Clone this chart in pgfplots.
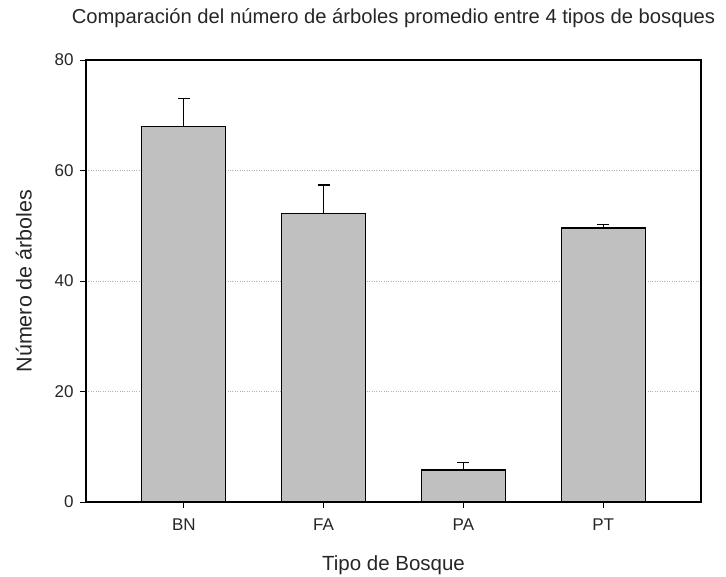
\documentclass[border=0pt]{standalone}
\usepackage{fontspec}
\setmainfont{Liberation Sans}
\usepackage{pgfplots}
\pgfplotsset{compat=1.18}
\definecolor{barfill}{RGB}{192,192,192}
\begin{document}
\begin{tikzpicture}[x=1pt,y=1pt]
\path[use as bounding box] (0,0) rectangle (726,576);
\begin{axis}[
  at={(86pt,74pt)}, anchor=south west,
  scale only axis, width=615pt, height=442pt,
  xmin=-0.7, xmax=3.7, ymin=0, ymax=80,
  xtick={0,1,2,3}, xticklabels={BN,FA,PA,PT},
  ytick={0,20,40,60,80},
  xtick pos=bottom, ytick pos=left,
  tick align=outside, major tick length=6pt,
  tick style={black, line width=1pt},
  axis line style={black, line width=1.1pt},
  ymajorgrids, grid style={gray!60, dotted, line width=0.8pt},
  /pgf/number format/assume math mode=true,
  ticklabel style={font=\fontsize{17}{19}\selectfont, text=black!85},
  yticklabel style={xshift=-3pt},
  xticklabel style={yshift=-7pt},
  xlabel={Tipo de Bosque}, ylabel={Número de árboles},
  xlabel style={at={(axis description cs:0.5,-0.1425)}, anchor=center, font=\fontsize{20.5}{23}\selectfont, text=black!85},
  ylabel style={at={(axis description cs:-0.101,0.5)}, anchor=center, font=\fontsize{21.5}{24}\selectfont, text=black!85},
  every axis title shift=0pt,
  title={Comparación del número de árboles promedio entre 4 tipos de bosques},
  title style={at={(axis description cs:0.5,1.095)}, anchor=center, font=\fontsize{20.2}{23}\selectfont, text=black!85},
]
\addplot[ybar, bar width=84pt, fill=barfill, draw=black, line width=1.1pt,
  error bars/.cd, y dir=plus, y explicit,
  error bar style={line width=1.3pt, black},
  error mark options={rotate=90, mark size=6pt, line width=1.3pt, black}]
  coordinates {(0,68) +- (0,5.0) (1,52.2) +- (0,5.2) (2,5.8) +- (0,1.4) (3,49.6) +- (0,0.6)};
\end{axis}
\end{tikzpicture}
\end{document}
